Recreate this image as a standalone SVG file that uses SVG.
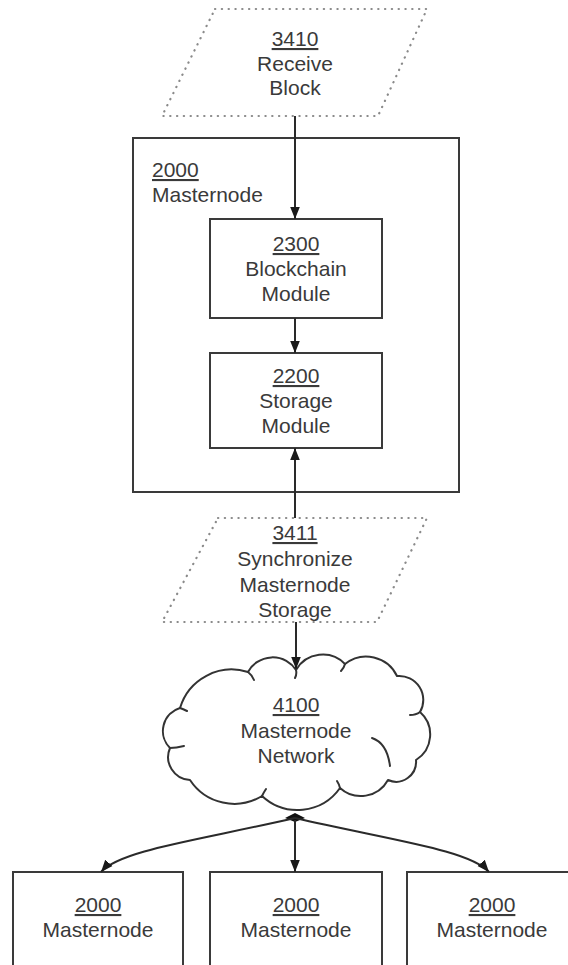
<svg xmlns="http://www.w3.org/2000/svg" width="568" height="965" viewBox="0 0 568 965">
<style>
.t{font-family:"Liberation Sans",Arial,sans-serif;font-size:21px;fill:#3a3a3a;text-anchor:middle}
.l{text-anchor:start}
.u{text-decoration:underline}
.box{fill:#fff;stroke:#3a3a3a;stroke-width:2}
.dot{fill:#fff;stroke:#8a8a8a;stroke-width:2.2;stroke-dasharray:0.3 6.5;stroke-linecap:round}
.ln{fill:none;stroke:#2a2a2a;stroke-width:2}
.cl{fill:#fff;stroke:#333;stroke-width:2;stroke-linejoin:round}
.ck{fill:none;stroke:#333;stroke-width:2;stroke-linecap:round}
</style>
<defs>
<marker id="ah" markerUnits="userSpaceOnUse" markerWidth="12" markerHeight="12" viewBox="0 0 10 10" refX="10" refY="5" orient="auto">
<path d="M0,1 L10,5 L0,9 Z" fill="#1a1a1a"/>
</marker>
</defs>
<rect width="568" height="965" fill="#fff"/>
<g id="n2000-main">
<rect class="box" x="133" y="138" width="326" height="354"/>
<text class="t l u" x="152" y="177">2000</text>
<text class="t l" x="152" y="202">Masternode</text>
</g>
<g id="n3410">
<polygon class="dot" points="215,9 427,9 378,116 162,116"/>
<text class="t u" x="295" y="46">3410</text>
<text class="t" x="295" y="71">Receive</text>
<text class="t" x="295" y="95">Block</text>
</g>
<g id="n2300">
<rect class="box" x="210" y="219" width="172" height="99"/>
<text class="t u" x="296" y="251">2300</text>
<text class="t" x="296" y="276">Blockchain</text>
<text class="t" x="296" y="301">Module</text>
</g>
<g id="n2200">
<rect class="box" x="210" y="353" width="172" height="95"/>
<text class="t u" x="296" y="383">2200</text>
<text class="t" x="296" y="408">Storage</text>
<text class="t" x="296" y="433">Module</text>
</g>
<g id="n3411">
<polygon class="dot" points="218,518 427,518 377,622 162,622"/>
<text class="t u" x="295" y="540">3411</text>
<text class="t" x="295" y="566">Synchronize</text>
<text class="t" x="295" y="592">Masternode</text>
<text class="t" x="295" y="617">Storage</text>
</g>
<g id="n4100">
<path class="cl" d="M296,670 A31,31 0 0 1 345,664 A34,34 0 0 1 397,676 A24,24 0 0 1 420,712 A30,30 0 0 1 416,760 A20,20 0 0 1 388,780 A31,31 0 0 1 340,788 A52,52 0 0 1 262,796 A53,53 0 0 1 190,780 A23,23 0 0 1 170,748 A24,24 0 0 1 180,708 A54,54 0 0 1 248,672 A28,28 0 0 1 296,670 Z"/>
<path class="ck" d="M296,670 q1,4 -1,8 M248,672 q4,3 6,8 M345,664 q-1,4 -4,7 M420,712 q-4,3 -10,3 M372,738 q15,5 18,28 M340,788 q-1,-4 -3,-7 M262,796 q2,-4 4,-7 M170,748 q6,0 14,-2 M180,708 q3,1 7,3"/>
<text class="t u" x="296" y="712">4100</text>
<text class="t" x="296" y="738">Masternode</text>
<text class="t" x="296" y="763">Network</text>
</g>
<g id="n2000-a">
<rect class="box" x="13" y="872" width="170" height="110"/>
<text class="t u" x="98" y="912">2000</text>
<text class="t" x="98" y="937">Masternode</text>
</g>
<g id="n2000-b">
<rect class="box" x="210" y="872" width="172" height="110"/>
<text class="t u" x="296" y="912">2000</text>
<text class="t" x="296" y="937">Masternode</text>
</g>
<g id="n2000-c">
<rect class="box" x="407" y="872" width="172" height="110"/>
<text class="t u" x="492" y="912">2000</text>
<text class="t" x="492" y="937">Masternode</text>
</g>
<g id="connectors">
<line class="ln" x1="295" y1="116" x2="295" y2="219" marker-end="url(#ah)"/>
<line class="ln" x1="295" y1="318" x2="295" y2="353" marker-end="url(#ah)"/>
<line class="ln" x1="295" y1="518" x2="295" y2="448" marker-end="url(#ah)"/>
<line class="ln" x1="296" y1="622" x2="296" y2="669" marker-end="url(#ah)"/>
<polygon points="285,818 295,813 305,818 295,822" fill="#111"/>
<path class="ln" d="M295,818 C200,840 120,850 101,872" marker-end="url(#ah)"/>
<path class="ln" d="M295,818 C390,840 470,850 489,872" marker-end="url(#ah)"/>
<line class="ln" x1="295" y1="820" x2="295" y2="872" marker-end="url(#ah)"/>
</g>
</svg>
